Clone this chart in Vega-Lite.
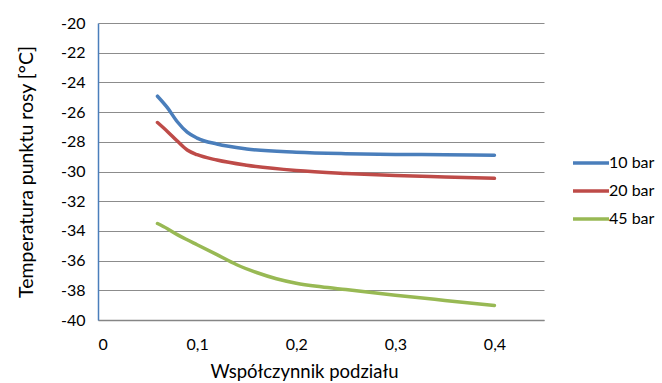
{
  "$schema": "https://vega.github.io/schema/vega-lite/v6.json",
  "width": 446,
  "height": 297,
  "autosize": "none",
  "padding": {"left": 98, "top": 23, "right": 118, "bottom": 63},
  "background": "white",
  "config": {
    "view": {"stroke": null},
    "font": "Lato",
    "axis": {"labelFont": "Lato", "titleFont": "Lato", "labelColor": "#000", "titleColor": "#000", "titleFontWeight": "normal"},
    "legend": {"labelFont": "Lato"}
  },
  "data": {"values": [
    {"x": 0.06, "y": -24.93, "s": "10 bar"},
    {"x": 0.07, "y": -25.7, "s": "10 bar"},
    {"x": 0.08, "y": -26.65, "s": "10 bar"},
    {"x": 0.09, "y": -27.35, "s": "10 bar"},
    {"x": 0.1, "y": -27.75, "s": "10 bar"},
    {"x": 0.12, "y": -28.15, "s": "10 bar"},
    {"x": 0.15, "y": -28.48, "s": "10 bar"},
    {"x": 0.2, "y": -28.7, "s": "10 bar"},
    {"x": 0.25, "y": -28.8, "s": "10 bar"},
    {"x": 0.3, "y": -28.85, "s": "10 bar"},
    {"x": 0.35, "y": -28.87, "s": "10 bar"},
    {"x": 0.4, "y": -28.9, "s": "10 bar"},
    {"x": 0.06, "y": -26.7, "s": "20 bar"},
    {"x": 0.07, "y": -27.3, "s": "20 bar"},
    {"x": 0.08, "y": -27.95, "s": "20 bar"},
    {"x": 0.09, "y": -28.55, "s": "20 bar"},
    {"x": 0.1, "y": -28.87, "s": "20 bar"},
    {"x": 0.12, "y": -29.23, "s": "20 bar"},
    {"x": 0.15, "y": -29.58, "s": "20 bar"},
    {"x": 0.2, "y": -29.93, "s": "20 bar"},
    {"x": 0.25, "y": -30.13, "s": "20 bar"},
    {"x": 0.3, "y": -30.27, "s": "20 bar"},
    {"x": 0.35, "y": -30.37, "s": "20 bar"},
    {"x": 0.4, "y": -30.46, "s": "20 bar"},
    {"x": 0.06, "y": -33.5, "s": "45 bar"},
    {"x": 0.07, "y": -33.85, "s": "45 bar"},
    {"x": 0.08, "y": -34.25, "s": "45 bar"},
    {"x": 0.09, "y": -34.6, "s": "45 bar"},
    {"x": 0.1, "y": -34.93, "s": "45 bar"},
    {"x": 0.12, "y": -35.6, "s": "45 bar"},
    {"x": 0.14, "y": -36.28, "s": "45 bar"},
    {"x": 0.16, "y": -36.8, "s": "45 bar"},
    {"x": 0.18, "y": -37.22, "s": "45 bar"},
    {"x": 0.2, "y": -37.52, "s": "45 bar"},
    {"x": 0.225, "y": -37.76, "s": "45 bar"},
    {"x": 0.25, "y": -37.95, "s": "45 bar"},
    {"x": 0.3, "y": -38.33, "s": "45 bar"},
    {"x": 0.35, "y": -38.68, "s": "45 bar"},
    {"x": 0.4, "y": -39.02, "s": "45 bar"}
  ]},
  "mark": {"type": "line", "interpolate": "monotone", "strokeWidth": 3.5, "strokeCap": "round"},
  "encoding": {
    "x": {
      "field": "x", "type": "quantitative",
      "scale": {"domain": [0, 0.45], "nice": false, "zero": false},
      "axis": {
        "values": [0, 0.1, 0.2, 0.3, 0.4],
        "labelExpr": "replace(format(datum.value, '.1~f'), '.', ',')",
        "grid": false, "ticks": false,
        "domainColor": "#868686", "domainWidth": 1.5,
        "labelFontSize": 16, "labelPadding": 16,
        "title": "Współczynnik podziału", "titleFontSize": 18.5, "titlePadding": 10,
        "titleX": 206, "titleAnchor": "start", "titleAlign": "center"
      }
    },
    "y": {
      "field": "y", "type": "quantitative",
      "scale": {"domain": [-40, -20], "nice": false, "zero": false},
      "axis": {
        "values": [-40, -38, -36, -34, -32, -30, -28, -26, -24, -22, -20],
        "labelExpr": "'-' + format(abs(datum.value), 'd')",
        "grid": true, "gridColor": "#8c8c8c", "gridWidth": 1,
        "ticks": false,
        "domainColor": "#4a7ebb", "domainWidth": 1.5,
        "labelFontSize": 16, "labelPadding": 13,
        "title": "Temperatura punktu rosy [°C]", "titleFontSize": 19.5, "titlePadding": 24
      }
    },
    "color": {
      "field": "s", "type": "nominal",
      "scale": {"domain": ["10 bar", "20 bar", "45 bar"], "range": ["#4a7ebb", "#be4b48", "#98b954"]},
      "legend": {
        "title": null, "orient": "none", "legendX": 473, "legendY": 120,
        "symbolType": "stroke", "symbolSize": 1296, "symbolStrokeWidth": 3.5,
        "labelFontSize": 16, "labelOffset": -2, "rowPadding": -4
      }
    }
  }
}
